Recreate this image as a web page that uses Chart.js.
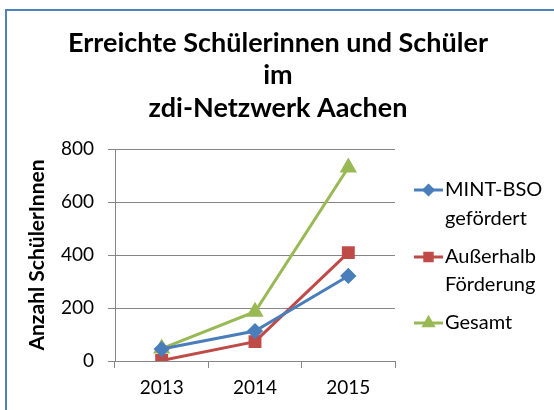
<!DOCTYPE html>
<html>
<head>
<meta charset="utf-8">
<script src="https://cdn.jsdelivr.net/npm/chart.js@4"></script>
<style>
  html, body { margin: 0; padding: 0; background: #fff; }
  #wrap { position: relative; width: 554px; height: 410px; overflow: hidden; }
  #frame { position: absolute; left: 5px; top: 9px; width: 600px; height: 500px;
           border-left: 2px solid #4f81bd; border-top: 2px solid #4f81bd; }
  canvas { position: absolute; left: 0; top: 0; }
</style>
</head>
<body>
<div id="wrap">
  <div id="frame"></div>
  <canvas id="myChart" width="554" height="410"></canvas>
</div>
<script>
// data
const years = ['2013', '2014', '2015'];
const mintBso = [45, 113, 321];
const ausserhalb = [2, 73, 409];
const gesamt = [47, 186, 730];
const yTicks = [0, 200, 400, 600, 800];
const titleLines = ['Erreichte Schülerinnen und Schüler', 'im', 'zdi-Netzwerk Aachen'];

const FONT = 'Lato, "Open Sans", sans-serif';
const GRID = '#868686';

// title centred over the whole picture, legend with two-line labels
const extras = {
  id: 'extras',
  afterDraw(chart) {
    const ctx = chart.ctx;
    ctx.save();
    ctx.fillStyle = '#000';
    ctx.font = 'bold 27px ' + FONT;
    ctx.textAlign = 'center';
    ctx.textBaseline = 'middle';
    titleLines.forEach((t, i) => ctx.fillText(t, 278, 43 + i * 32.5));

    const rows = [[190, 219], [257, 285], [323]];
    chart.data.datasets.forEach((ds, i) => {
      const lines = ds.label.split('\n');
      const y0 = rows[i][0];
      ctx.strokeStyle = ds.borderColor;
      ctx.lineWidth = 3;
      ctx.beginPath();
      ctx.moveTo(414, y0);
      ctx.lineTo(443, y0);
      ctx.stroke();
      ctx.fillStyle = ds.pointBackgroundColor;
      ctx.strokeStyle = ds.pointBackgroundColor;
      Chart.helpers.drawPoint(ctx, {
        pointStyle: ds.pointStyle,
        radius: ds.pointRadius * 0.75,
        rotation: 0,
        borderWidth: 1
      }, 428.5, y0);
      ctx.fillStyle = '#000';
      ctx.font = '20px ' + FONT;
      ctx.textAlign = 'left';
      lines.forEach((t, k) => ctx.fillText(t, 445, rows[i][k]));
    });
    ctx.restore();
  }
};

var ctx = document.getElementById('myChart').getContext('2d');
var myChart = new Chart(ctx, {
  type: 'line',
  data: {
    labels: years,
    datasets: [{
      label: 'MINT-BSO\ngefördert',
      data: mintBso,
      borderColor: '#4a7ebb',
      pointBackgroundColor: '#4a7ebb',
      pointBorderColor: '#4a7ebb',
      pointStyle: 'rectRot',
      pointRadius: 6,
      borderWidth: 3
    }, {
      label: 'Außerhalb\nFörderung',
      data: ausserhalb,
      borderColor: '#be4b48',
      pointBackgroundColor: '#be4b48',
      pointBorderColor: '#be4b48',
      pointStyle: 'rect',
      pointRadius: 7,
      borderWidth: 3
    }, {
      label: 'Gesamt',
      data: gesamt,
      borderColor: '#98b954',
      pointBackgroundColor: '#98b954',
      pointBorderColor: '#98b954',
      pointStyle: 'triangle',
      pointRadius: 7,
      borderWidth: 3
    }]
  },
  options: {
    responsive: false,
    animation: false,
    layout: { padding: { left: 20, right: 159, top: 149, bottom: 9 } },
    plugins: {
      legend: { display: false },
      tooltip: { enabled: false },
      title: { display: false }
    },
    scales: {
      x: {
        offset: true,
        afterFit: (axis) => { axis.height = 40; },
        grid: { drawOnChartArea: false, offset: true, tickLength: 7, color: GRID },
        border: { color: GRID },
        ticks: { color: '#000', font: { family: FONT, size: 19 }, padding: 8 }
      },
      y: {
        min: 0,
        max: 800,
        afterBuildTicks: (axis) => { axis.ticks = yTicks.map(v => ({ value: v })); },
        afterFit: (axis) => { axis.width = 95; },
        grid: { color: GRID, tickLength: 7 },
        border: { color: GRID },
        ticks: { color: '#000', font: { family: FONT, size: 19 }, padding: 14 },
        title: {
          display: true,
          text: 'Anzahl SchülerInnen',
          color: '#000',
          font: { family: FONT, size: 21, weight: 'bold' },
          padding: { top: 5, bottom: 4 }
        }
      }
    }
  },
  plugins: [extras]
});
</script>
</body>
</html>
